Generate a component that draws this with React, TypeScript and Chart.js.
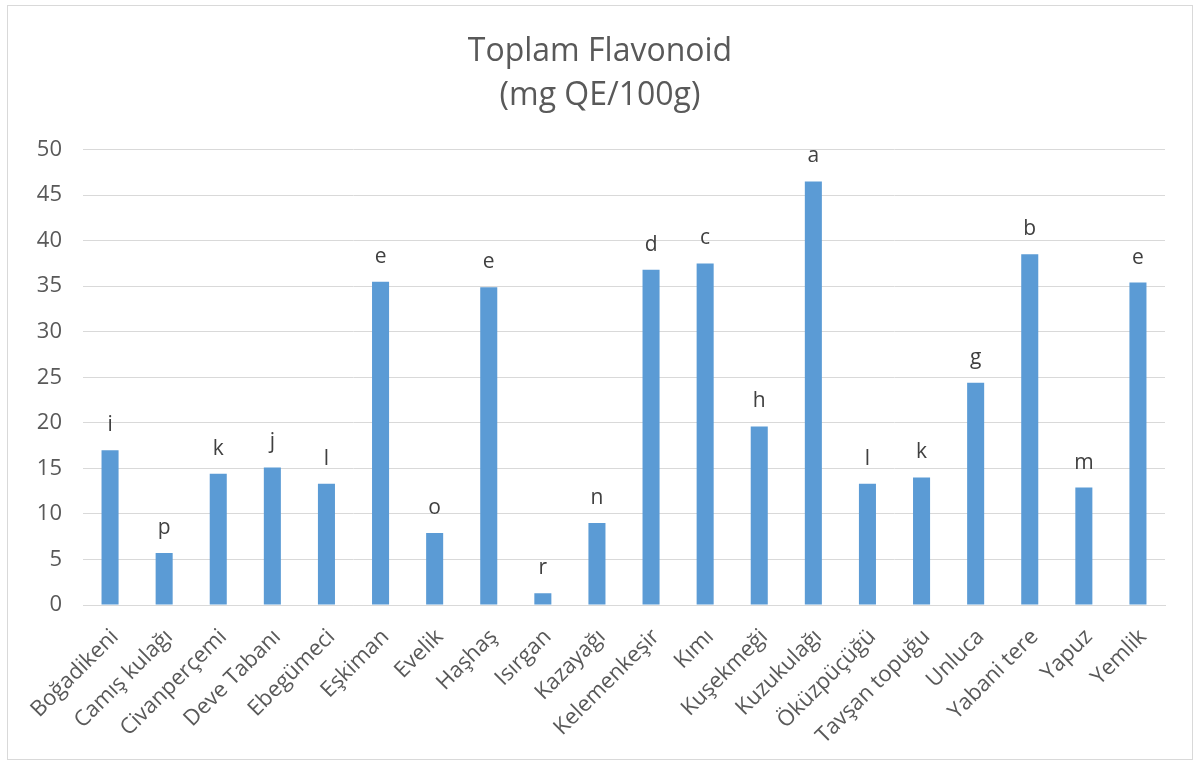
import React, { useEffect, useRef } from "react";
import { Chart, registerables } from "chart.js";

Chart.register(...registerables);

const categories = [
  "Boğadikeni",
  "Camış kulağı",
  "Civanperçemi",
  "Deve Tabanı",
  "Ebegümeci",
  "Eşkiman",
  "Evelik",
  "Haşhaş",
  "Isırgan",
  "Kazayağı",
  "Kelemenkeşir",
  "Kımı",
  "Kuşekmeği",
  "Kuzukulağı",
  "Öküzpüçüğü",
  "Tavşan topuğu",
  "Unluca",
  "Yabani tere",
  "Yapuz",
  "Yemlik",
];

const flavonoidValues = [
  17.0, 5.7, 14.4, 15.1, 13.3, 35.5, 7.9, 34.9, 1.3, 9.0,
  36.8, 37.5, 19.6, 46.5, 13.3, 14.0, 24.4, 38.5, 12.9, 35.4,
];

const significanceLetters = [
  "i", "p", "k", "j", "l", "e", "o", "e", "r", "n",
  "d", "c", "h", "a", "l", "k", "g", "b", "m", "e",
];

const titleLines = ["Toplam Flavonoid", "(mg QE/100g)"];

const FONT = "'Open Sans', 'Noto Sans', sans-serif";

const letterPlugin = {
  id: "letterLabels",
  afterDatasetsDraw(chart: any) {
    const ctx = chart.ctx;
    const meta = chart.getDatasetMeta(0);
    ctx.save();
    ctx.font = `21px ${FONT}`;
    ctx.fillStyle = "#404040";
    ctx.textAlign = "center";
    ctx.textBaseline = "alphabetic";
    meta.data.forEach((bar: any, i: number) => {
      ctx.fillText(significanceLetters[i], bar.x, bar.y - 19);
    });
    ctx.restore();
  },
};

export default function App() {
  const ref = useRef<HTMLCanvasElement | null>(null);

  useEffect(() => {
    if (!ref.current) return;
    const chart = new Chart(ref.current, {
      type: "bar",
      data: {
        labels: categories,
        datasets: [
          {
            data: flavonoidValues,
            backgroundColor: "#5b9bd5",
            borderWidth: 0,
            barPercentage: 0.315,
            categoryPercentage: 1,
          },
        ],
      },
      options: {
        responsive: false,
        animation: false,
        layout: { padding: 0 },
        plugins: {
          legend: { display: false },
          tooltip: { enabled: false },
          title: {
            display: true,
            text: titleLines,
            color: "#595959",
            font: { family: FONT, size: 32, weight: "normal", lineHeight: 1.4 },
            padding: { top: 23, bottom: 31 },
          },
        },
        scales: {
          x: {
            grid: { display: false, drawTicks: false },
            border: { display: true, color: "#d9d9d9", width: 1 },
            ticks: {
              color: "#595959",
              font: { family: FONT, size: 22 },
              maxRotation: 45,
              minRotation: 45,
              autoSkip: false,
              padding: 19,
              labelOffset: 5,
            },
            afterFit: (s: any) => {
              s.height = 154;
            },
          },
          y: {
            min: 0,
            max: 50,
            grid: { color: "#d9d9d9", lineWidth: 1, drawTicks: false },
            border: { display: false },
            ticks: {
              stepSize: 5,
              color: "#595959",
              font: { family: FONT, size: 22 },
              padding: 21,
            },
            afterFit: (s: any) => {
              s.width = 75;
            },
          },
          spacer: {
            type: "linear",
            position: "right",
            display: true,
            grid: { display: false, drawTicks: false },
            border: { display: false },
            ticks: { display: false },
            afterFit: (s: any) => {
              s.width = 27;
            },
          },
        },
      },
      plugins: [letterPlugin],
    });
    return () => chart.destroy();
  }, []);

  return (
    <div
      style={{
        position: "fixed",
        left: 7,
        top: 5,
        width: 1184,
        height: 753,
        border: "1px solid #d9d9d9",
        background: "#fff",
      }}
    >
      <canvas ref={ref} width={1184} height={753} style={{ display: "block" }} />
    </div>
  );
}
